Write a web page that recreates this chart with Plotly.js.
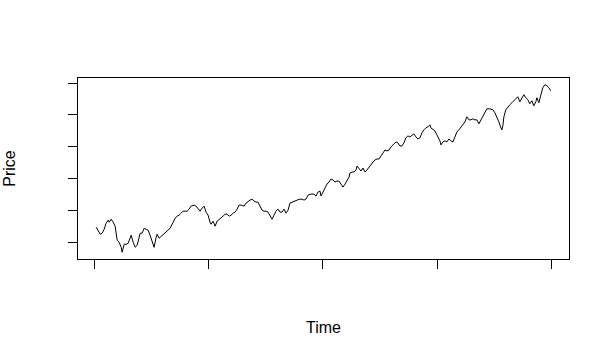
<!DOCTYPE html>
<html>
<head>
<meta charset="utf-8">
<script src="https://cdn.plot.ly/plotly-3.0.1.min.js"></script>
<style>
html, body { margin: 0; padding: 0; background: #fff; }
#chart { width: 610px; height: 357px; }
</style>
</head>
<body>
<div id="chart"></div>
<script>
// Time index (arbitrary units; the original chart shows no tick labels)
const time = [
  1.5, 3.2, 5.0, 6.7, 8.5, 10.2, 12.0, 12.9, 14.6, 16.4, 18.1, 19.9, 21.6, 23.4, 24.2,
  26.0, 27.7, 29.5, 31.2, 32.1, 33.9, 35.6, 37.4, 39.1, 40.0, 41.7, 43.5, 45.2, 47.0,
  48.7, 50.5, 52.2, 54.0, 54.9, 56.6, 58.4, 60.1, 61.9, 64.5, 66.2,
  68.9, 70.6, 72.4, 74.1, 75.9, 77.6, 81.1, 82.9, 84.6, 87.2, 89.0, 90.7, 92.5, 94.2,
  96.0, 97.7, 99.5, 101.2, 102.1, 103.9, 105.6, 107.4, 109.1, 110.9, 112.6, 114.4,
  116.1, 117.9, 119.6, 121.4, 123.1, 124.9, 126.6, 128.4, 131.0,
  132.7, 134.5, 136.2, 138.0, 139.7, 141.5, 143.2, 145.0, 146.7, 148.5, 150.2, 152.0,
  153.7, 155.5, 157.2, 159.0, 160.7, 162.5, 164.2, 166.0, 167.7, 169.5, 171.2, 173.0,
  175.6, 177.4, 180.0, 181.7, 183.5, 185.2, 187.0, 189.6, 192.2, 194.0, 195.7, 197.5,
  198.4, 200.1, 201.9, 203.6, 205.4, 207.1, 208.9, 210.6, 212.4, 214.1, 215.9, 217.6,
  219.4, 221.1, 222.9, 223.7, 225.5, 227.2, 229.0, 229.9, 231.6, 233.4, 235.1, 236.9,
  238.6, 240.4, 242.1, 243.9, 245.6, 247.4, 249.1, 250.9, 252.6, 254.4, 256.1, 257.9,
  259.6, 261.4, 264.0, 265.7, 267.5, 269.2, 271.0, 272.7, 274.5, 276.2, 278.0, 279.7,
  281.5, 283.2, 285.0, 286.7, 288.5, 290.2, 292.0, 293.7, 294.6, 296.4, 298.1, 299.9,
  301.6, 302.5, 303.4, 305.1, 306.9, 308.6, 310.4, 312.1, 313.9, 315.6, 317.4, 319.1,
  320.9, 322.6, 324.4, 326.1, 327.9, 329.6, 331.4, 333.1, 334.9, 336.6, 338.4, 340.1,
  341.9, 343.6, 346.2, 348.9, 350.6, 352.4, 354.1, 355.9, 356.7, 357.6, 358.5, 360.2,
  362.0, 363.7, 365.5, 367.2, 369.0, 370.7, 372.5, 374.2, 376.0, 377.7, 379.5, 381.2,
  383.0, 384.7, 386.5, 387.4, 389.1, 390.9, 392.6, 394.4, 396.1, 397.9, 399.6
];

// Price values
const price = [
  1048.1, 1035.5, 1026.1, 1029.2, 1041.8, 1060.7, 1070.1, 1063.8, 1073.2, 1063.8, 1051.2, 1007.2, 1000.9, 985.2, 969.5,
  994.6, 994.6, 997.8, 1013.5, 1022.9, 1000.9, 985.2, 991.5, 1013.5, 1029.2, 1029.2, 1044.9, 1041.8, 1038.6,
  1022.9, 1004.1, 985.2, 1016.6, 1026.1, 1013.5, 1019.8, 1022.9, 1029.2, 1038.6, 1044.9,
  1063.8, 1076.4, 1082.7, 1085.8, 1092.1, 1098.4, 1098.4, 1104.7, 1114.1, 1117.3, 1114.1, 1104.7, 1098.4, 1107.8,
  1114.1, 1095.3, 1085.8, 1063.8, 1057.5, 1067.0, 1051.2, 1067.0, 1073.2, 1076.4, 1082.7, 1089.0,
  1089.0, 1082.7, 1085.8, 1092.1, 1095.3, 1104.7, 1117.3, 1117.3, 1114.1,
  1123.6, 1129.9, 1133.0, 1136.1, 1129.9, 1126.7, 1126.7, 1114.1, 1101.5, 1098.4, 1098.4, 1095.3,
  1082.7, 1073.2, 1085.8, 1098.4, 1104.7, 1095.3, 1095.3, 1104.7, 1092.1, 1101.5, 1123.6, 1126.7,
  1129.9, 1133.0, 1136.1, 1136.1, 1133.0, 1136.1, 1148.7, 1151.9, 1151.9, 1145.6, 1158.2, 1161.3,
  1145.6, 1158.2, 1170.7, 1183.3, 1189.6, 1199.0, 1195.9, 1189.6, 1192.8, 1192.8, 1183.3, 1173.9,
  1183.3, 1195.9, 1205.3, 1217.9, 1221.1, 1221.1, 1227.3, 1239.9, 1230.5, 1224.2, 1233.6, 1221.1,
  1227.3, 1236.8, 1243.1, 1252.5, 1258.8, 1261.9, 1261.9, 1271.4, 1284.0, 1290.2, 1287.1, 1290.2,
  1299.7, 1306.0, 1315.4, 1312.3, 1302.8, 1302.8, 1312.3, 1328.0, 1334.3, 1331.1, 1337.4, 1340.6,
  1331.1, 1324.8, 1328.0, 1343.7, 1353.1, 1359.4, 1362.6, 1368.9, 1359.4, 1353.1, 1350.0, 1337.4,
  1324.8, 1318.6, 1306.0, 1315.4, 1318.6, 1315.4, 1324.8, 1318.6, 1315.4, 1334.3, 1346.9, 1353.1,
  1362.6, 1368.9, 1378.3, 1394.0, 1384.6, 1384.6, 1387.7, 1384.6, 1384.6, 1372.0, 1384.6, 1397.2,
  1409.8, 1419.2, 1419.2, 1416.0, 1406.6, 1394.0, 1378.3, 1359.4, 1353.1, 1365.7, 1394.0, 1416.0,
  1425.5, 1431.8, 1438.1, 1444.4, 1450.6, 1456.9, 1441.2, 1453.8, 1463.2, 1453.8, 1447.5, 1434.9,
  1444.4, 1428.6, 1441.2, 1453.8, 1438.1, 1463.2, 1485.2, 1494.7, 1491.5, 1485.2, 1475.8
];

const xTitle = "Time";
const yTitle = "Price";

// R-style 4% padding on each side of the data range
function padded(arr) {
  const lo = Math.min(...arr), hi = Math.max(...arr);
  const p = (hi - lo) * 0.04;
  return [lo - p, hi + p];
}

const trace = {
  x: time,
  y: price,
  type: "scatter",
  mode: "lines",
  line: { color: "#000000", width: 1 },
  hoverinfo: "skip"
};

const axisCommon = {
  showline: true,
  mirror: true,
  linecolor: "#000000",
  linewidth: 1,
  ticks: "outside",
  ticklen: 9,
  tickwidth: 1,
  tickcolor: "#000000",
  showticklabels: false,
  showgrid: false,
  zeroline: false,
  automargin: false,
  fixedrange: true
};

const layout = {
  width: 610,
  height: 357,
  margin: { l: 78, r: 41, t: 78, b: 98, pad: 0 },
  paper_bgcolor: "#ffffff",
  plot_bgcolor: "#ffffff",
  showlegend: false,
  font: { family: "Liberation Sans, Arial, sans-serif", size: 16, color: "#000000" },
  xaxis: Object.assign({}, axisCommon, {
    range: padded(time),
    tick0: 0,
    dtick: 100,
    title: { text: xTitle, standoff: 53, font: { size: 16, color: "#000000" } }
  }),
  yaxis: Object.assign({}, axisCommon, {
    range: padded(price),
    tick0: 0,
    dtick: 100,
    title: { text: yTitle, standoff: 48, font: { size: 16, color: "#000000" } }
  })
};

Plotly.newPlot("chart", [trace], layout, { staticPlot: true, displayModeBar: false });
</script>
</body>
</html>
